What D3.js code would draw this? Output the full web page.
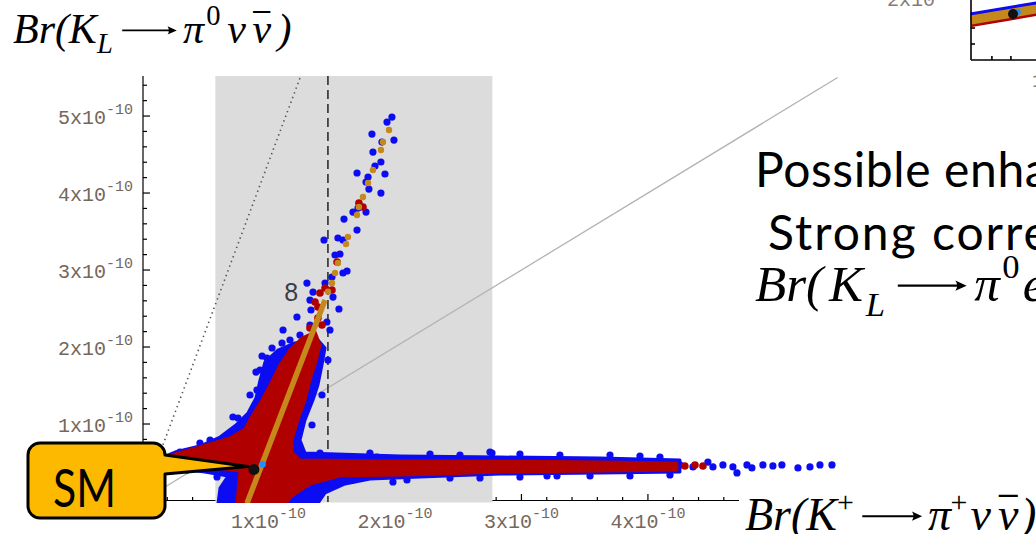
<!DOCTYPE html>
<html>
<head>
<meta charset="utf-8">
<script src="https://cdn.jsdelivr.net/npm/d3@7"></script>
<style>
  html, body { margin: 0; padding: 0; background: #fff; overflow: hidden; }
  svg { display: block; }
</style>
</head>
<body>
<svg id="chart" width="1036" height="534"></svg>
<script>
// All branching ratios in units of 1e-10.
const xMajorTicks = [1, 2, 3, 4];
const yMajorTicks = [1, 2, 3, 4, 5];
const xTickLabels = ["1x10", "2x10", "3x10", "4x10"];
const yTickLabels = ["1x10", "2x10", "3x10", "4x10", "5x10"];
const tickExponent = "-10";

// Measured K+ range (shaded) and its central value (dashed)
const expBand = [0.58, 2.77];
const expCentral = 1.47;
// Grossman–Nir bound: Br(KL) < 4.4 Br(K+)
const gnBound = [[0, 0], [1.255, 5.52]];
// Br(KL) = Br(K+) reference line
const equalLine = [[0, 0], [5.5, 5.5]];

const smPoint = [0.885, 0.41];
const fitPoint = [0.954, 0.477];

// Dense regions of the scan (outer blue envelope, inner red core)
const blueRegion = [
  [1.391, 2.091], [1.447, 1.987], [1.423, 1.766], [1.391, 1.506], [1.352, 1.312],
  [1.289, 1.052], [1.249, 0.792], [1.289, 0.623], [2.040, 0.584], [2.830, 0.571],
  [3.621, 0.558], [4.253, 0.532], [4.253, 0.377], [3.621, 0.364], [2.830, 0.351],
  [2.198, 0.312], [1.802, 0.286], [1.605, 0.221], [1.447, 0.104], [1.391, -0.03],
  [0.601, -0.03], [0.617, 0.169], [0.680, 0.325], [0.498, 0.377], [0.300, 0.416],
  [0.142, 0.468], [0.126, 0.545], [0.261, 0.636], [0.458, 0.714], [0.617, 0.831],
  [0.743, 0.987], [0.838, 1.143], [0.901, 1.338], [0.933, 1.571], [0.972, 1.805],
  [1.075, 1.961], [1.209, 2.052]
];
const redRegion = [
  [1.368, 2.195], [1.407, 2.026], [1.375, 1.805], [1.328, 1.571], [1.289, 1.312],
  [1.233, 1.052], [1.186, 0.792], [1.186, 0.636], [1.249, 0.532], [2.040, 0.519],
  [2.830, 0.519], [3.621, 0.506], [4.229, 0.494], [4.229, 0.403], [3.621, 0.390],
  [2.830, 0.377], [2.356, 0.351], [2.040, 0.338], [1.565, 0.325], [1.328, 0.221],
  [1.186, 0.065], [1.138, -0.03], [0.751, -0.03], [0.767, 0.273], [0.775, 0.390],
  [0.656, 0.416], [0.379, 0.455], [0.182, 0.494], [0.150, 0.545], [0.237, 0.597],
  [0.458, 0.701], [0.696, 0.818], [0.814, 0.935], [0.870, 1.104], [0.949, 1.312],
  [1.012, 1.506], [1.091, 1.766], [1.170, 1.961], [1.265, 2.117]
];

// Isolated scan points
const bluePoints = [
  [1.976, 4.987], [1.937, 4.922], [1.818, 4.766], [1.992, 4.688], [1.897, 4.662],
  [1.826, 4.532], [1.889, 4.403], [1.842, 4.351], [1.700, 4.260], [1.921, 4.247],
  [1.787, 4.208], [1.771, 4.143], [1.794, 4.052], [1.889, 4.000], [1.708, 3.805],
  [1.668, 3.753], [1.771, 3.753], [1.597, 3.662], [1.700, 3.519], [1.549, 3.416],
  [1.589, 3.390], [1.439, 3.390], [1.526, 3.195], [1.565, 3.208], [1.621, 2.987],
  [1.589, 2.961], [1.502, 2.909], [1.304, 2.831], [1.447, 2.831], [1.352, 2.714],
  [1.510, 2.649], [1.328, 2.610], [1.557, 2.494], [1.336, 2.481], [1.225, 2.390],
  [1.115, 2.221], [1.249, 2.156], [1.328, 2.286], [1.170, 2.091], [1.486, 2.221],
  [1.028, 1.987], [1.462, 2.325], [1.107, 2.052], [0.988, 1.857], [1.028, 1.805],
  [0.933, 1.701], [0.909, 1.442], [0.957, 1.571], [1.407, 1.922], [1.470, 1.831],
  [1.328, 1.532], [1.344, 1.442], [1.423, 1.377], [1.344, 0.987],
  [0.759, 1.078], [0.854, 1.377], [0.901, 1.675], [0.949, 1.883], [0.893, 1.247],
  [0.719, 1.091], [0.775, 0.961], [0.538, 0.792], [0.458, 0.753], [1.407, 0.623],
  [1.802, 0.623], [1.858, 0.571], [1.510, 0.571], [2.751, 0.636], [1.273, 0.597],
  [2.095, 0.273], [1.984, 0.247], [1.668, 0.273], [1.170, 0.831], [1.130, 0.766],
  [2.767, 0.623], [3.202, 0.325], [3.281, 0.325],
  [4.253, 0.468], [4.356, 0.442], [4.514, 0.442], [4.593, 0.468], [4.672, 0.442],
  [4.704, 0.364], [4.783, 0.468], [4.909, 0.468], [4.988, 0.455], [5.059, 0.468],
  [5.186, 0.429], [5.281, 0.442], [5.360, 0.468], [5.455, 0.468], [4.474, 0.506],
  [4.822, 0.429],
  [0.593, 0.312], [0.696, 0.208], [0.696, 0.013], [0.640, 0.039], [0.356, 0.403],
  [0.166, 0.597], [0.300, 0.636], [0.458, 0.701], [0.632, 0.792],
  [2.277, 0.610], [2.514, 0.597], [2.988, 0.610], [3.304, 0.597], [3.700, 0.597],
  [3.937, 0.584], [4.095, 0.571],
  [2.435, 0.299], [2.672, 0.299], [2.988, 0.312], [3.542, 0.325], [3.858, 0.325],
  [4.174, 0.338]
];
const redPoints = [
  [1.715, 3.870], [1.747, 3.818], [1.542, 3.104], [1.447, 2.766], [1.502, 2.740],
  [1.407, 2.701], [1.368, 2.584], [1.391, 2.519], [1.391, 2.377], [1.328, 2.247],
  [1.423, 2.286], [1.265, 1.896], [1.304, 1.701], [1.170, 1.117], [1.146, 1.182],
  [1.352, 1.870], [4.292, 0.455], [4.372, 0.468], [4.435, 0.455]
];
// Fitted correlation: continuous part and sampled points above it
const fitLine = [[0.83, -0.03], [1.447, 2.61]];
const fitDots = [
  [1.953, 4.818], [1.905, 4.662], [1.889, 4.558], [1.826, 4.299], [1.787, 4.130],
  [1.747, 3.948], [1.715, 3.818], [1.700, 3.714], [1.628, 3.429], [1.613, 3.338],
  [1.549, 3.091], [1.526, 2.961], [1.502, 2.831], [1.470, 2.720]
];
const scanLabel = { text: "8", pos: [1.18, 2.71] };

// Small companion panel in the upper right corner
const insetBand = [[0.39, 1.70], [0.89, 1.90]];
const insetSM = [0.611, 1.775];
const insetFit = [0.637, 1.80];
const insetXTicks = [0.5, 0.6];
const insetYTicks = [1.6, 1.4];

const svg = d3.select("#chart");
const x = d3.scaleLinear().domain([0, 4.72]).range([142, 739]);
const y = d3.scaleLinear().domain([0, 5.52]).range([501, 76]);

const BLUE = "#0c0cf2", RED = "#b00000", ORANGE = "#c4891a";
const TICKCOL = "#74675d";
const MONO = "'Liberation Mono', 'Courier New', monospace";

// ---- axes ----
const axes = svg.append("g").attr("stroke", "#000").attr("stroke-width", 1.2);
axes.append("line").attr("x1", 143).attr("x2", 143).attr("y1", y(5.52)).attr("y2", y(0));
axes.append("line").attr("x1", x(0)).attr("x2", x(4.72)).attr("y1", y(0) - 0.5).attr("y2", y(0) - 0.5);

const isMajor = v => Math.abs(v - Math.round(v)) < 1e-6;
const xMinor = d3.range(0.2, 4.71, 0.2).filter(v => !isMajor(v));
const yMinor = d3.range(0.2, 5.5, 0.2).filter(v => !isMajor(v));

axes.selectAll(".xt").data(xMinor.map(v => [v, 4]).concat(xMajorTicks.map(v => [v, 7])))
  .join("line")
  .attr("x1", d => x(d[0])).attr("x2", d => x(d[0]))
  .attr("y1", y(0)).attr("y2", d => y(0) - d[1]);
axes.selectAll(".yt").data(yMinor.map(v => [v, 4]).concat(yMajorTicks.map(v => [v, 7])))
  .join("line")
  .attr("x1", 143).attr("x2", d => 143 + d[1])
  .attr("y1", d => y(d[0])).attr("y2", d => y(d[0]));

const xl = svg.append("g").selectAll("text").data(xMajorTicks).join("text")
  .attr("x", d => x(d)).attr("y", 528).attr("text-anchor", "middle")
  .attr("font-family", MONO).attr("font-size", 20).attr("fill", TICKCOL);
xl.append("tspan").text((d, i) => xTickLabels[i]);
xl.append("tspan").attr("dy", -10).attr("font-size", 15).text(tickExponent);

const yl = svg.append("g").selectAll("text").data(yMajorTicks).join("text")
  .attr("x", 133).attr("y", d => y(d) + 8).attr("text-anchor", "end")
  .attr("font-family", MONO).attr("font-size", 20).attr("fill", TICKCOL);
yl.append("tspan").text((d, i) => yTickLabels[i]);
yl.append("tspan").attr("dy", -10).attr("font-size", 15).text(tickExponent);

// ---- shaded experimental range ----
svg.append("rect")
  .attr("x", x(expBand[0])).attr("y", y(5.52))
  .attr("width", x(expBand[1]) - x(expBand[0]))
  .attr("height", y(0) - y(5.52) + 1.5)
  .attr("fill", "#dcdcdc");

const line = d3.line().x(d => x(d[0])).y(d => y(d[1]));

svg.append("path").attr("d", line(equalLine))
  .attr("fill", "none").attr("stroke", "#b3b3b3").attr("stroke-width", 1.3);
svg.append("path").attr("d", line(gnBound))
  .attr("fill", "none").attr("stroke", "#555").attr("stroke-width", 1.6)
  .attr("stroke-dasharray", "1.4,3.6");
svg.append("line")
  .attr("x1", x(expCentral)).attr("x2", x(expCentral))
  .attr("y1", y(5.52)).attr("y2", y(0) + 1)
  .attr("stroke", "#222").attr("stroke-width", 1.5).attr("stroke-dasharray", "9,5");

// ---- scan points ----
svg.append("clipPath").attr("id", "plotClip").append("rect")
  .attr("x", 142).attr("y", 60).attr("width", 720).attr("height", 443);
const scan = svg.append("g").attr("clip-path", "url(#plotClip)");
const closed = d3.line().x(d => x(d[0])).y(d => y(d[1])).curve(d3.curveLinearClosed);

scan.append("path").attr("d", closed(blueRegion))
  .attr("fill", BLUE).attr("stroke", BLUE).attr("stroke-width", 3).attr("stroke-linejoin", "round");
scan.append("g").selectAll("circle").data(bluePoints).join("circle")
  .attr("cx", d => x(d[0])).attr("cy", d => y(d[1])).attr("r", 3.6).attr("fill", BLUE);
scan.append("path").attr("d", closed(redRegion))
  .attr("fill", RED).attr("stroke", RED).attr("stroke-width", 3).attr("stroke-linejoin", "round");
scan.append("g").selectAll("circle").data(redPoints).join("circle")
  .attr("cx", d => x(d[0])).attr("cy", d => y(d[1])).attr("r", 3.8).attr("fill", RED);
scan.append("path").attr("d", line(fitLine))
  .attr("fill", "none").attr("stroke", ORANGE).attr("stroke-width", 5.5);
scan.append("g").selectAll("circle").data(fitDots).join("circle")
  .attr("cx", d => x(d[0])).attr("cy", d => y(d[1])).attr("r", 3.2).attr("fill", ORANGE);

svg.append("circle").attr("cx", x(fitPoint[0])).attr("cy", y(fitPoint[1]))
  .attr("r", 3.2).attr("fill", "#1e8fff");
svg.append("circle").attr("cx", x(smPoint[0])).attr("cy", y(smPoint[1]))
  .attr("r", 5.5).attr("fill", "#111");

svg.append("text").attr("x", x(scanLabel.pos[0])).attr("y", y(scanLabel.pos[1]))
  .attr("text-anchor", "middle").attr("dominant-baseline", "central")
  .attr("font-family", "'Liberation Sans', Arial, sans-serif").attr("font-size", 25)
  .attr("fill", "#3d3d47").text(scanLabel.text);

// ---- companion panel (top right) ----
const ix = d3.scaleLinear().domain([0.39, 0.89]).range([971, 1066]);
const iy = d3.scaleLinear().domain([1.2, 2.0]).range([60, -4]);
const inset = svg.append("g");
const iline = d3.line().x(d => ix(d[0])).y(d => iy(d[1]));
inset.append("path").attr("d", iline(insetBand)).attr("transform", "translate(0,-2.5)")
  .attr("fill", "none").attr("stroke", BLUE).attr("stroke-width", 10);
inset.append("path").attr("d", iline(insetBand)).attr("transform", "translate(0,2.5)")
  .attr("fill", "none").attr("stroke", RED).attr("stroke-width", 9);
inset.append("path").attr("d", iline(insetBand))
  .attr("fill", "none").attr("stroke", ORANGE).attr("stroke-width", 9);
inset.append("circle").attr("cx", ix(insetFit[0])).attr("cy", iy(insetFit[1])).attr("r", 3).attr("fill", "#1e8fff");
inset.append("circle").attr("cx", ix(insetSM[0])).attr("cy", iy(insetSM[1])).attr("r", 5).attr("fill", "#111");
const iax = inset.append("g").attr("stroke", "#000").attr("stroke-width", 1.6);
iax.append("line").attr("x1", 971).attr("x2", 971).attr("y1", 0).attr("y2", 60);
iax.append("line").attr("x1", 971).attr("x2", 1036).attr("y1", 60).attr("y2", 60);
iax.selectAll(".ixt").data(insetXTicks).join("line")
  .attr("x1", d => ix(d)).attr("x2", d => ix(d)).attr("y1", 60).attr("y2", 56);
iax.selectAll(".iyt").data(insetYTicks).join("line")
  .attr("x1", 971).attr("x2", 975).attr("y1", d => iy(d)).attr("y2", d => iy(d));
const il1 = inset.append("text").attr("x", 962).attr("y", 6).attr("text-anchor", "end")
  .attr("font-family", MONO).attr("font-size", 20).attr("fill", "#8a7b70");
il1.append("tspan").text("2x10");
il1.append("tspan").attr("dy", -10).attr("font-size", 15).text(tickExponent);
const il2 = inset.append("text").attr("x", 1032).attr("y", 87)
  .attr("font-family", MONO).attr("font-size", 20).attr("fill", "#8a7b70");
il2.append("tspan").text("1x10");
il2.append("tspan").attr("dy", -10).attr("font-size", 15).text(tickExponent);

// ---- SM callout ----
const tipX = x(smPoint[0]) - 6, tipY = y(smPoint[1]) - 3;
const callout = svg.append("g");
callout.append("path")
  .attr("d", `M40,443 H153 A12,12 0 0 1 165,455 L${tipX},${tipY} L165,474 V506 A12,12 0 0 1 153,518 H40 A12,12 0 0 1 28,506 V455 A12,12 0 0 1 40,443 Z`)
  .attr("fill", "#fdb900").attr("stroke", "#000").attr("stroke-width", 3).attr("stroke-linejoin", "round");
callout.append("text").attr("x", 53).attr("y", 507)
  .attr("font-family", "Lato, 'Open Sans', sans-serif").attr("font-size", 52)
  .attr("textLength", 63).attr("lengthAdjust", "spacingAndGlyphs")
  .attr("fill", "#000").text("SM");

// ---- math-style labels: each piece placed along a baseline ----
const SERIF = "'Liberation Serif', 'Times New Roman', serif";
function mathLabel(parts, baseX, baseY, size) {
  const g = svg.append("g").attr("font-family", SERIF);
  parts.forEach(p => {
    const px = baseX + p.dx * size;
    if (p.arrow) {
      // long right arrow: thin shaft with a filled head
      const ay = baseY - 0.3 * size, len = p.arrow * size;
      const hl = 0.22 * size, hw = 0.1 * size;
      g.append("line").attr("x1", px).attr("x2", px + len - hl * 0.6)
        .attr("y1", ay).attr("y2", ay).attr("stroke", "#000").attr("stroke-width", 0.045 * size);
      g.append("path")
        .attr("d", `M${px + len},${ay} L${px + len - hl},${ay - hw} Q${px + len - hl * 0.7},${ay} ${px + len - hl},${ay + hw} Z`)
        .attr("fill", "#000");
      return;
    }
    const t = g.append("text")
      .attr("x", px)
      .attr("y", baseY + (p.shift || 0) * size)
      .attr("font-size", (p.scale || 1) * size)
      .attr("font-style", p.upright ? "normal" : "italic")
      .text(p.t);
    if (p.w) {
      const len = t.node().getComputedTextLength() || 1;
      const sx = (p.w * size) / len;
      t.attr("transform", `translate(${px},0) scale(${sx},1) translate(${-px},0)`);
    }
  });
}
const nuBar = (dx) => [
  { t: "ν", dx: dx },
  { t: "ν", dx: dx + 0.6 },
  { t: "\u00af", dx: dx + 0.62, upright: true, w: 0.4 }
];
// Offsets are in em of each label's font size.
const yTitleParts = [
  { t: "Br(", dx: 0 }, { t: "K", dx: 1.33 },
  { t: "L", dx: 2.0, scale: 0.68, shift: 0.24 },
  { arrow: 1.3, dx: 2.6 },
  { t: "π", dx: 4.05 },
  { t: "0", dx: 4.6, upright: true, scale: 0.68, shift: -0.42 },
  ...nuBar(5.1),
  { t: ")", dx: 6.3 }
];
mathLabel(yTitleParts, 13, 43, 42);

const xTitleParts = [
  { t: "Br(", dx: 0 }, { t: "K", dx: 1.33 },
  { t: "+", dx: 2.0, upright: true, scale: 0.65, shift: -0.4 },
  { arrow: 1.3, dx: 2.55 },
  { t: "π", dx: 3.98 },
  { t: "+", dx: 4.47, upright: true, scale: 0.65, shift: -0.4 },
  ...nuBar(4.9),
  { t: ")", dx: 6.0 }
];
mathLabel(xTitleParts, 745, 530, 46);

// ---- side notes ----
const SANS = "Lato, 'Open Sans', sans-serif";
svg.append("text").attr("x", 755).attr("y", 187)
  .attr("font-family", SANS).attr("font-size", 48).attr("letter-spacing", 0.6)
  .text("Possible enhancement of both");
svg.append("text").attr("x", 768).attr("y", 250)
  .attr("font-family", SANS).attr("font-size", 48).attr("letter-spacing", 2)
  .text("Strong correlation with");
const noteParts = [
  { t: "Br(", dx: 0 }, { t: "K", dx: 1.45 },
  { t: "L", dx: 2.17, scale: 0.68, shift: 0.3 },
  { arrow: 1.35, dx: 2.8 },
  { t: "π", dx: 4.3 },
  { t: "0", dx: 4.85, upright: true, scale: 0.68, shift: -0.45 },
  { t: "e", dx: 5.25 },
  { t: "+", dx: 5.7, upright: true, scale: 0.68, shift: -0.45 },
  { t: "e", dx: 6.15 },
  { t: "−", dx: 6.6, upright: true, scale: 0.68, shift: -0.45 },
  { t: ")", dx: 7.1 }
];
mathLabel(noteParts, 755, 301, 51);
</script>
</body>
</html>
